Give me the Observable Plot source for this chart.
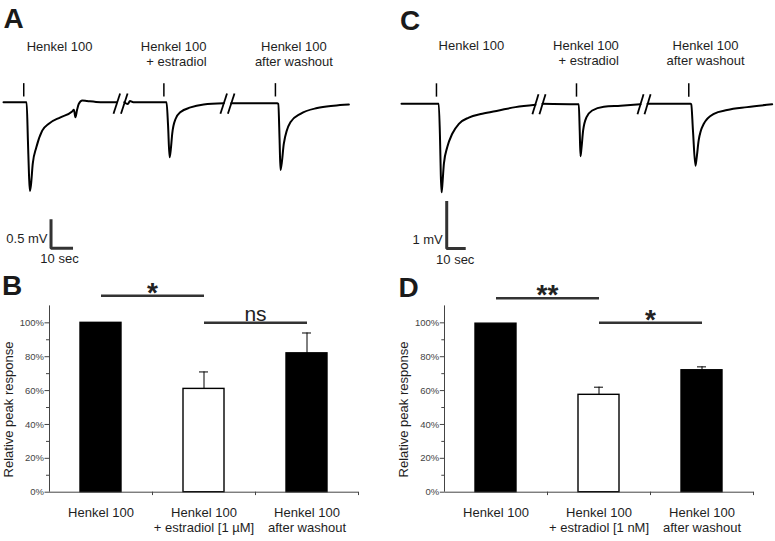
<!DOCTYPE html>
<html><head><meta charset="utf-8">
<script src="https://cdn.jsdelivr.net/npm/d3@7"></script>
<script src="https://cdn.jsdelivr.net/npm/@observablehq/plot@0.6"></script>
<style>
body{margin:0;background:#fff}
#fig{position:relative;width:775px;height:541px;background:#fff;overflow:hidden}
#fig > div{position:absolute}
</style></head><body><div id="fig"></div>
<script>
// ---------- Panel A: voltage traces (time s, potential mV), segments split at axis breaks
const traceA1 = [[0,0],[10.5,0],[11.1,-0.66],[11.6,-1.26],[12.0,-1.53],[12.5,-1.42],[13.3,-1.06],[14.9,-0.78],[17.6,-0.49],[20.6,-0.37],[25.9,-0.26],[31.2,-0.16],[32.0,-0.13],[32.7,-0.26],[33.4,-0.14],[34.2,-0.03],[35.8,0.03],[38.0,0.02],[44.1,0],[51.5,0]];
const traceA2 = [[54.9,0],[56.5,-0.03],[57.5,0.02],[59,0],[72.7,0],[74.1,0],[74.8,-0.4],[75.5,-0.95],[76.0,-0.83],[76.7,-0.54],[78.2,-0.29],[80.5,-0.17],[85.0,-0.09],[91.0,-0.04],[100.1,-0.02]];
const traceA3 = [[103.5,-0.02],[124.4,-0.02],[124.9,-0.03],[125.5,-0.66],[125.9,-1.17],[126.5,-1.04],[127.4,-0.72],[130.5,-0.34],[135.0,-0.2],[142.6,-0.1],[150.1,-0.06],[157.0,-0.04]];
const stimA = [9.2, 72.9, 123.6];
const breaksA = [50, 98.6];
const labelTimesA = [25.5, 92.3, 132];
const scaleBarA = {t: 21.6, v: -2.52, dt: 10, dv: 0.5, tLabel: "10 sec", vLabel: "0.5 mV"};

// ---------- Panel C
const traceC1 = [[0,0],[19.6,0],[20.3,-0.77],[20.7,-1.51],[21.1,-1.86],[21.6,-1.65],[22.3,-1.26],[24.1,-0.91],[26.7,-0.63],[30.2,-0.42],[35.4,-0.29],[42.5,-0.21],[51.2,-0.14],[60.0,-0.07],[70.5,-0.02]];
const traceC2 = [[74.2,0],[92.1,-0.01],[93.3,-0.01],[93.8,-0.56],[94.2,-1.1],[94.7,-0.94],[95.6,-0.56],[97.4,-0.28],[100.4,-0.14],[106.5,-0.06],[115.3,-0.04],[125.8,-0.01]];
const traceC3 = [[129.5,0],[152.1,0],[152.5,-0.01],[153.4,-0.56],[154.7,-1.3],[155.3,-1.15],[156.4,-0.77],[159.1,-0.42],[164.4,-0.21],[171.4,-0.13],[181.9,-0.07],[195.1,-0.01]];
const stimC = [18.4, 92.1, 151.2];
const breaksC = [68.9, 124.2];
const labelTimesC = [36.8, 114.4, 160];
const scaleBarC = {t: 23.8, v: -3.04, dt: 10, dv: 1, tLabel: "10 sec", vLabel: "1 mV"};

const traceLabels = ["Henkel 100", "Henkel 100\n+ estradiol", "Henkel 100\nafter washout"];

// ---------- Panel B: relative peak response (%)
const conditionsB = ["Henkel 100", "Henkel 100\n+ estradiol [1 µM]", "Henkel 100\nafter washout"];
const meansB = [100, 61, 82];
const errorsB = [0, 10, 12];
const sigB = [{from: 0, to: 1, level: 116, label: "*"}, {from: 1, to: 2, level: 100, label: "ns"}];

// ---------- Panel D
const conditionsD = ["Henkel 100", "Henkel 100\n+ estradiol [1 nM]", "Henkel 100\nafter washout"];
const meansD = [99.5, 57.5, 72];
const errorsD = [0, 4.5, 2];
const sigD = [{from: 0, to: 1, level: 114.5, label: "**"}, {from: 1, to: 2, level: 100, label: "*"}];

const yTicks = [0, 20, 40, 60, 80, 100];
const yMinorTicks = [10, 30, 50, 70, 90];

// ---------------------------------------------------------------
const FONT = "'Liberation Sans', Arial, Helvetica, sans-serif";
const TEXT = "#1e1e1e";

function place(node, left, top) {
  const d = document.createElement("div");
  d.style.left = left + "px";
  d.style.top = top + "px";
  d.appendChild(node);
  document.getElementById("fig").appendChild(d);
}

function tracePanel(p) {
  const rows = p.segs.flatMap((s, k) => s.map(([t, v]) => ({t, v, seg: k})));
  const slashes = p.breaks.flatMap(b => [
    {a: b, b: b + p.slashW},
    {a: b + p.slashGap, b: b + p.slashGap + p.slashW}
  ]);
  const sb = p.scale;
  const bar = [{t: sb.t, v: sb.v + sb.dv}, {t: sb.t, v: sb.v}, {t: sb.t + sb.dt, v: sb.v}];
  const labels = traceLabels.map((text, i) => ({text, t: p.labelTimes[i], i}));
  return Plot.plot({
    width: 390, height: 270, margin: 0,
    style: {fontFamily: FONT, background: "transparent", overflow: "visible", color: TEXT},
    x: {domain: p.xDomain, range: p.xRange, axis: null},
    y: {domain: [0, -1], range: p.yRange, axis: null},
    marks: [
      Plot.line(rows, {x: "t", y: "v", z: "seg", curve: "monotone-x", stroke: "#000", strokeWidth: 2}),
      Plot.ruleX(p.stim, {y1: p.stimV[0], y2: p.stimV[1], stroke: "#000", strokeWidth: 1.5}),
      Plot.link(slashes, {x1: "a", x2: "b", y1: p.slashV[0], y2: p.slashV[1], stroke: "#000", strokeWidth: 1.8}),
      Plot.line(bar, {x: "t", y: "v", stroke: "#333", strokeWidth: 3, strokeLinejoin: "miter", strokeLinecap: "butt"}),
      Plot.text([sb.vLabel], {x: sb.t, y: sb.v, text: d => d, textAnchor: "end", lineAnchor: "middle", dx: p.vLabelDx, dy: p.vLabelDy, fontSize: 13, fill: TEXT}),
      Plot.text([sb.tLabel], {x: sb.t + sb.dt / 2, y: sb.v, text: d => d, textAnchor: "middle", lineAnchor: "middle", dx: p.tLabelDx, dy: p.tLabelDy, fontSize: 13, fill: TEXT}),
      Plot.text(labels.filter(d => d.i !== 1), {x: "t", text: "text", frameAnchor: "top", dy: p.labelDy, lineAnchor: "top", textAnchor: "middle", fontSize: 13, lineHeight: 1.154, fill: TEXT}),
      Plot.text(labels.filter(d => d.i === 1), {x: "t", text: "text", frameAnchor: "top", dy: p.labelDy, lineAnchor: "top", textAnchor: "end", fontSize: 13, lineHeight: 1.154, fill: TEXT}),
      Plot.text([p.letter], {text: d => d, frameAnchor: "top-left", dx: p.letterDx, dy: p.letterDy, textAnchor: "start", lineAnchor: "top", fontSize: 28, fontWeight: "bold", fill: "#1a1a1a"})
    ]
  });
}

function barPanel(p) {
  const conds = p.conds;
  const rows = conds.map((c, i) => ({cond: c, mean: p.means[i], err: p.errs[i], treated: i === 1}));
  const errRows = rows.filter(d => d.err > 0);
  const sigRows = p.sig.map(s => ({x1: conds[s.from], x2: conds[s.to], level: s.level, label: s.label}));
  const W = 390, H = 271, mt = 35.4, mb = 49.3;
  const half = (W - p.ml - p.mr) / conds.length / 2;
  const AX = "#444";
  return Plot.plot({
    width: W, height: H, marginLeft: p.ml, marginRight: p.mr, marginTop: mt, marginBottom: mb,
    style: {fontFamily: FONT, background: "transparent", overflow: "visible", color: TEXT},
    x: {type: "band", domain: conds, paddingInner: 0.6, paddingOuter: 0.3},
    y: {domain: [0, 110]},
    marks: [
      Plot.barY(rows, {x: "cond", y: "mean", fill: d => d.treated ? "#fff" : "#000", stroke: "#000", strokeWidth: 1.4}),
      Plot.ruleX(errRows, {x: "cond", y1: "mean", y2: d => d.mean + d.err, stroke: "#000", strokeWidth: 1}),
      Plot.tickY(errRows, {x: "cond", y: d => d.mean + d.err, insetLeft: 16, insetRight: 16, stroke: "#000", strokeWidth: 1}),
      Plot.ruleY([0], {stroke: AX, strokeWidth: 1}),
      Plot.ruleX([conds[0]], {y1: 0, y2: 110, dx: -half, stroke: AX, strokeWidth: 1}),
      Plot.ruleX(conds, {y1: 0, y2: -2, dx: half, stroke: AX, strokeWidth: 1}),
      Plot.axisY({ticks: yTicks, tickFormat: d => d + "%", tickSize: 4.5, tickPadding: 1, fontSize: 9.5, color: "#444", label: null}),
      Plot.axisY({ticks: yMinorTicks, tickFormat: () => "", tickSize: 3, color: "#444", label: null}),
      Plot.axisX({tickSize: 0, tickPadding: 14, fontSize: 13, lineHeight: 1.154, color: TEXT, label: null}),
      Plot.text(["Relative peak response"], {text: d => d, frameAnchor: "left", rotate: -90, dx: p.yLabelDx, dy: 10.5, textAnchor: "middle", lineAnchor: "middle", fontSize: 13, fill: TEXT}),
      Plot.link(sigRows, {x1: "x1", x2: "x2", y1: "level", y2: "level", stroke: "#333", strokeWidth: 2.5}),
      Plot.text(sigRows.filter(d => d.label !== "ns"), {x: "x1", y: "level", text: "label", dx: half, dy: 6, lineAnchor: "bottom", textAnchor: "middle", fontSize: 28, fontWeight: "bold", fill: "#222"}),
      Plot.text(sigRows.filter(d => d.label === "ns"), {x: "x1", y: "level", text: "label", dx: half, dy: -2, lineAnchor: "bottom", textAnchor: "middle", fontSize: 21, fill: "#222"}),
      Plot.text([p.letter], {text: d => d, frameAnchor: "top-left", dx: p.letterDx, dy: p.letterDy, textAnchor: "start", lineAnchor: "top", fontSize: 28, fontWeight: "bold", fill: "#1a1a1a"})
    ]
  });
}

place(tracePanel({
  segs: [traceA1, traceA2, traceA3], stim: stimA, breaks: breaksA, slashW: 3.0, slashGap: 3.4, slashV: [-0.2, 0.15],
  stimV: [0.09, 0.32], labelTimes: labelTimesA, scale: scaleBarA, letter: "A",
  xDomain: [0, 160], xRange: [3, 355], yRange: [101.7, 159.7],
  vLabelDx: -3.5, vLabelDy: -10, tLabelDx: -2.5, tLabelDy: 10, labelDy: 40, letterDx: 3, letterDy: 7.3
}), 0, 0);

place(tracePanel({
  segs: [traceC1, traceC2, traceC3], stim: stimC, breaks: breaksC, slashW: 3.2, slashGap: 3.7, slashV: [-0.22, 0.2],
  stimV: [0.14, 0.42], labelTimes: labelTimesC, scale: scaleBarC, letter: "C",
  xDomain: [0, 200], xRange: [16, 396], yRange: [103.3, 150.9],
  vLabelDx: -4, vLabelDy: -9, tLabelDx: -1, tLabelDy: 11, labelDy: 39, letterDx: 14.6, letterDy: 9.8
}), 385, 0);

place(barPanel({
  conds: conditionsB, means: meansB, errs: errorsB, sig: sigB, letter: "B",
  ml: 49, mr: 32, yLabelDx: -40.7, letterDx: 1.5 - 49, letterDy: 5 - 35.4
}), 0, 270);

place(barPanel({
  conds: conditionsD, means: meansD, errs: errorsD, sig: sigD, letter: "D",
  ml: 59.3, mr: 21.7, yLabelDx: -40.6, letterDx: 13 - 59.3, letterDy: 6.7 - 35.4
}), 385, 270);
</script></body></html>
